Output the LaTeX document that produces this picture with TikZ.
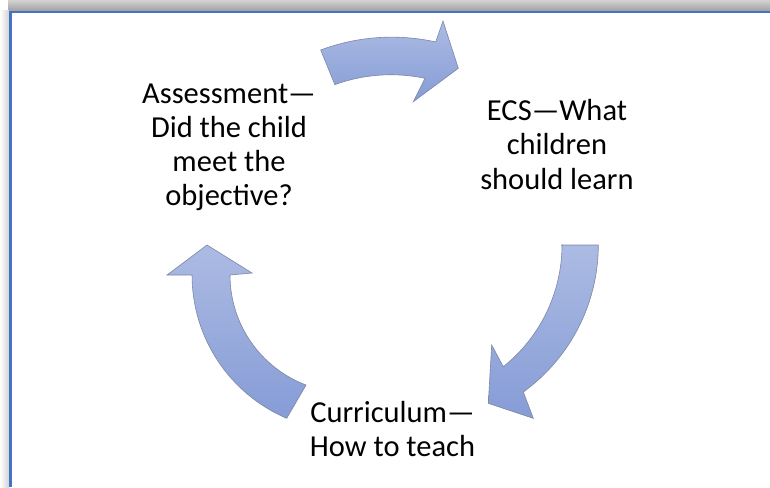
\documentclass[tikz,border=0pt]{standalone}
\usepackage{fontspec}
\setmainfont{Carlito}
\definecolor{framebl}{RGB}{68,114,196}
\definecolor{arrtop}{RGB}{172,187,227}
\definecolor{arrbot}{RGB}{134,156,214}
\definecolor{arrline}{RGB}{125,135,165}
\tikzset{
  cyclearrow/.style={top color=arrtop, bottom color=arrbot, draw=arrline, line width=0.6pt, line join=miter},
  lbl/.style={align=center, inner sep=0pt, font=\fontsize{30.5}{34.2}\selectfont, text=black}
}
\begin{document}
\begin{tikzpicture}[x=1pt,y=-1pt]
\useasboundingbox (0,0) rectangle (770,487);
\fill[white] (0,0) rectangle (770,487);
% shadow
\shade[top color=gray!35, bottom color=gray!75] (8,0) rectangle (770,11);
\shade[left color=white, right color=gray!35] (0,11) rectangle (9,487);
% frame
\draw[framebl, line width=2.5pt] (10.5,487) -- (10.5,12) -- (770,12);
% arrows
\shadedraw[cyclearrow] (335,85) -- (320.7,50) arc[start angle=-110.5, end angle=-77.5, radius=203]
  -- (443,21) -- (458.3,68.3) -- (413.3,101.7) -- (425,78.3)
  arc[start angle=-78.1, end angle=-109.9, radius=165] -- cycle;
\shadedraw[cyclearrow] (561.7,245) -- (598.3,245) arc[start angle=0, end angle=54.05, radius=181.6]
  -- (533.3,418.3) -- (488.3,403.3) -- (491.7,345) -- (503.3,366.7)
  arc[start angle=51.4, end angle=0, radius=156.1] -- cycle;
\shadedraw[cyclearrow] (207,245) -- (252,273) -- (230,275)
  arc[start angle=180, end angle=110.7, radius=117.6] -- (286.7,418.3)
  arc[start angle=113.1, end angle=180, radius=155.8] -- (167,275) -- cycle;
% labels (base anchor = baseline of last line)
\node[lbl, anchor=base] (assess) at (229,205.7) {Assessment—\\Did the child\\meet the\\objective?};
\node[lbl, anchor=base] (ecs) at (557,189) {ECS—What\\children\\should learn};
\node[lbl, anchor=base] (curr) at (392.5,456.7) {Curriculum—\\How to teach};
\end{tikzpicture}
\end{document}
